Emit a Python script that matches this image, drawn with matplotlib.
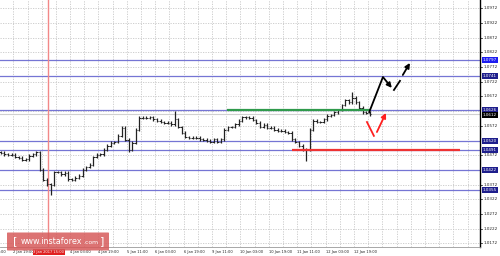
import matplotlib
matplotlib.use('Agg')
import matplotlib.pyplot as plt
import matplotlib.transforms as mtransforms
from matplotlib.patches import FancyBboxPatch

# ---------------- data ----------------
bar_hours = 2
first_open = 1.0482
closes = [1.0480, 1.0476, 1.0473, 1.0473, 1.0466, 1.0463, 1.0456, 1.0459, 1.0470, 1.0476,
          1.0483, 1.0422, 1.0388, 1.0374, 1.0371, 1.0415, 1.0415, 1.0408, 1.0412, 1.0391,
          1.0388, 1.0395, 1.0402, 1.0422, 1.0432, 1.0439, 1.0466, 1.0473, 1.0476, 1.0490,
          1.0504, 1.0514, 1.0517, 1.0538, 1.0565, 1.0524, 1.0490, 1.0514, 1.0558, 1.0599,
          1.0599, 1.0599, 1.0602, 1.0595, 1.0589, 1.0585, 1.0582, 1.0582, 1.0578, 1.0595,
          1.0568, 1.0548, 1.0534, 1.0531, 1.0531, 1.0531, 1.0527, 1.0524, 1.0521, 1.0517,
          1.0527, 1.0517, 1.0527, 1.0558, 1.0568, 1.0568, 1.0578, 1.0589, 1.0602, 1.0602,
          1.0599, 1.0592, 1.0582, 1.0568, 1.0575, 1.0565, 1.0565, 1.0558, 1.0555, 1.0555,
          1.0551, 1.0548, 1.0527, 1.0517, 1.0504, 1.0490, 1.0490, 1.0558, 1.0589, 1.0585,
          1.0585, 1.0595, 1.0606, 1.0609, 1.0619, 1.0626, 1.0643, 1.0660, 1.0653, 1.0667,
          1.0653, 1.0633, 1.0619, 1.0616, 1.0612]
spike_high = {49: 1.0623, 99: 1.0687, 34: 1.0572}
spike_low = {14: 1.0337, 86: 1.0453, 36: 1.0484}

levels = [1.0797, 1.0741, 1.0626, 1.0520, 1.0491, 1.0422, 1.0355]
level_labels = ["1.0797", "1.0741", "1.0626", "1.0520", "1.0491", "1.0422", "1.0355"]
current_price = 1.0612
current_label = "1.0612"

price_ticks = [1.0972, 1.0922, 1.0872, 1.0822, 1.0772, 1.0722, 1.0672, 1.0622, 1.0572,
               1.0522, 1.0472, 1.0422, 1.0372, 1.0322, 1.0272, 1.0222, 1.0172]
hidden_ticks = ["1.0622", "1.0522", "1.0422"]

time_ticks = [-8, 8, 40, 56, 72, 88, 104, 120, 136, 152, 168, 184, 200]
time_labels = ["2 Jan 03:00", "2 Jan 19:00", "4 Jan 03:00", "4 Jan 19:00",
               "5 Jan 11:00", "6 Jan 03:00", "6 Jan 19:00", "9 Jan 11:00", "10 Jan 03:00",
               "10 Jan 19:00", "11 Jan 11:00", "12 Jan 03:00", "12 Jan 19:00"]
grid_hours = [8 * k for k in range(0, 35)]

marker_hour = 27.5
marker_label = "3 Jan 2017 15:00"

support_span = (128.4, 209.0)
support_price = 1.0626
resist_span = (165.0, 259.7)
resist_price = 1.0491

black1_h = [208.4, 216.3, 221.3]
black1_p = [1.0616, 1.0738, 1.0701]
black2_h = [222.5, 225.9]
black2_p = [1.0694, 1.0725]
black3_h = [227.5, 231.5]
black3_p = [1.0745, 1.0786]
red1_h = [207.3, 211.2]
red1_p = [1.0585, 1.0538]
red2_h = [212.9, 218.0]
red2_p = [1.0551, 1.0616]

# ---------------- figure ----------------
W, H = 500, 256
fig = plt.figure(figsize=(5.0, 2.56), dpi=100)
ax = fig.add_axes([0, 9 / H, 480 / W, 247 / H])
ax.set_xlim(0.5, 271)
ax.set_ylim(1.0160, 1.1000)
ax.set_xticks([])
ax.set_yticks([])
for s in ['top', 'left']:
    ax.spines[s].set_visible(False)
ax.spines['right'].set_color('black')
ax.spines['right'].set_linewidth(1.0)
ax.spines['bottom'].set_color('#999999')
ax.spines['bottom'].set_linewidth(0.6)

grid_kw = dict(color='#c8c8c8', lw=0.6, ls=(0, (1.5, 1.5)), zorder=0)
for p in price_ticks:
    ax.axhline(p, **grid_kw)
for hh in grid_hours:
    ax.axvline(hh, **grid_kw)

# levels
for lv in levels:
    ax.axhline(lv, color='#7575d4', lw=0.9, zorder=1)
ax.axhline(current_price, color='#d0d0d0', lw=0.8, zorder=1)
ax.axvline(marker_hour, color='#f28888', lw=1.0, zorder=1)

# candles (bars)
opens = [first_open] + closes[:-1]
for i, (o, c) in enumerate(zip(opens, closes)):
    hx = 1 + bar_hours * i
    hi = max(o, c) + 0.0005
    lo = min(o, c) - 0.0005
    hi = spike_high.get(i, hi)
    lo = spike_low.get(i, lo)
    ax.vlines(hx, lo, hi, color='#222222', lw=0.9, zorder=3)
    ax.hlines(o, hx - 0.8, hx, color='#222222', lw=0.7, zorder=3)
    ax.hlines(c, hx, hx + 0.8, color='#222222', lw=0.7, zorder=3)

ax.hlines(support_price, *support_span, color='#2f9a4c', lw=1.6, zorder=4)
ax.hlines(resist_price, *resist_span, color='#ee3333', lw=1.6, zorder=4)

# forecast arrows
def arrow(hs, ps, color):
    ax.plot(hs[:-1], ps[:-1], color=color, lw=1.3, zorder=5, solid_capstyle='butt')
    ax.annotate('', xy=(hs[-1], ps[-1]), xytext=(hs[-2], ps[-2]),
                arrowprops=dict(arrowstyle='-|>', color=color, lw=1.3,
                                mutation_scale=7, shrinkA=0, shrinkB=0), zorder=5)

arrow(black1_h, black1_p, 'black')
ax.plot(black2_h, black2_p, color='black', lw=1.3, zorder=5)
arrow(black3_h, black3_p, 'black')
ax.plot(red1_h, red1_p, color='#ff2020', lw=1.3, zorder=5)
arrow(red2_h, red2_p, '#ff2020')

# right price axis
trans_r = mtransforms.blended_transform_factory(ax.transAxes, ax.transData)
for p in price_ticks:
    lab = f"{p:.4f}"
    if lab in hidden_ticks:
        continue
    ax.text(1.008, p, lab, transform=trans_r, fontsize=3.0, va='center', ha='left',
            color='#222222', clip_on=False)
    ax.plot([1.0, 1.005], [p, p], transform=trans_r, color='black', lw=0.5, clip_on=False)
for lv, lab in zip(levels, level_labels):
    fc = '#1c1cf0' if lab == "1.0797" else '#1e1e8c'
    ax.text(1.006, lv, lab, transform=trans_r, fontsize=3.0, va='center', ha='left',
            color='white', clip_on=False,
            bbox=dict(boxstyle='square,pad=0.25', fc=fc, ec='none'))
ax.text(1.006, current_price - 0.0004, current_label, transform=trans_r, fontsize=3.0,
        va='center', ha='left', color='white', clip_on=False,
        bbox=dict(boxstyle='square,pad=0.25', fc='black', ec='none'))

# bottom time axis
trans_b = mtransforms.blended_transform_factory(ax.transData, ax.transAxes)
for hh, lab in zip(time_ticks, time_labels):
    ax.text(hh, -0.012, lab, transform=trans_b, fontsize=2.6, va='top', ha='left',
            color='#222222', clip_on=False)
ax.text(marker_hour + 0.5, -0.012, marker_label, transform=trans_b, fontsize=2.6, va='top',
        ha='center', color='white', clip_on=False,
        bbox=dict(boxstyle='square,pad=0.2', fc='#e02020', ec='none'), zorder=6)

# watermark
box = FancyBboxPatch((8 / W, 6 / H), 100 / W, 17 / H, boxstyle='round,pad=0.002',
                     transform=fig.transFigure, fc='#d65a5a', ec='none', alpha=0.85,
                     zorder=10)
fig.patches.append(box)
fig.text(13 / W, 14.5 / H, '[', fontsize=8, color='white', va='center', ha='left', zorder=11)
fig.text(21 / W, 14.5 / H, 'www.instaforex', fontsize=5.8, color='white', va='center',
         ha='left', zorder=11)
fig.text(83 / W, 14 / H, '.com', fontsize=4.4, color='white', va='center', ha='left', zorder=11)
fig.text(100 / W, 14.5 / H, ']', fontsize=8, color='white', va='center', ha='left', zorder=11)

fig.savefig('out.png', dpi=100, facecolor='white')
